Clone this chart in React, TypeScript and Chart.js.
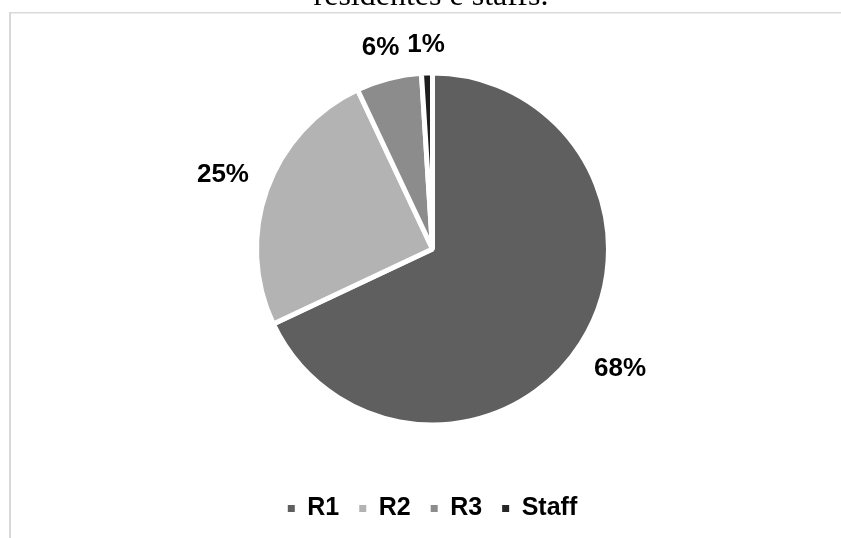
import React, { useEffect, useRef } from "react";
import { Chart, registerables } from "chart.js";

Chart.register(...registerables);

const titleText = "residentes e staffs.";
const categories = ["R1", "R2", "R3", "Staff"];
const values = [68, 25, 6, 1];
const sliceColors = ["#5f5f5f", "#b3b3b3", "#8c8c8c", "#1e1e1e"];
const legendColors = ["#5f5f5f", "#b3b3b3", "#8c8c8c", "#262626"];

const W = 841;
const H = 538;

const framePlugin = {
  id: "frame",
  beforeDraw(chart: any) {
    const ctx = chart.ctx;
    ctx.save();
    ctx.fillStyle = "#ffffff";
    ctx.fillRect(0, 0, W, H);
    ctx.fillStyle = "#d9d9d9";
    ctx.fillRect(9, 12, 2, H);
    ctx.fillRect(9, 12, W, 1.5);
    ctx.fillStyle = "#000000";
    ctx.font = '32px "Liberation Serif"';
    ctx.textAlign = "center";
    ctx.textBaseline = "alphabetic";
    ctx.fillText(titleText, 431, 5);
    ctx.restore();
  },
};

const labelPlugin = {
  id: "outLabels",
  afterDatasetsDraw(chart: any) {
    const ctx = chart.ctx;
    const meta = chart.getDatasetMeta(0);
    const data = chart.data.datasets[0].data as number[];
    const total = data.reduce((a, b) => a + b, 0);
    ctx.save();
    ctx.font = 'bold 26px "Liberation Sans"';
    ctx.fillStyle = "#000000";
    ctx.textAlign = "center";
    ctx.textBaseline = "middle";
    meta.data.forEach((arc: any, i: number) => {
      const p = arc.getProps(["x", "y", "startAngle", "endAngle", "outerRadius"], true);
      const mid = (p.startAngle + p.endAngle) / 2;
      const text = Math.round((data[i] / total) * 100) + "%";
      const tw = ctx.measureText(text).width;
      const th = 19;
      const c = Math.cos(mid);
      const s = Math.sin(mid);
      const half = Math.abs(c) * tw / 2 + Math.abs(s) * th / 2;
      const d = p.outerRadius + 19 + half;
      ctx.fillText(text, p.x + c * d, p.y + s * d + 1);
    });
    ctx.restore();
  },
};

export default function App() {
  const ref = useRef<HTMLCanvasElement | null>(null);
  useEffect(() => {
    if (!ref.current) return;
    const chart = new Chart(ref.current, {
      type: "pie",
      data: {
        labels: categories,
        datasets: [
          {
            data: values,
            backgroundColor: sliceColors,
            borderColor: "#ffffff",
            borderWidth: 5,
          },
        ],
      },
      options: {
        responsive: false,
        animation: false,
        devicePixelRatio: 1,
        layout: { padding: { left: 254, right: 230, top: 22, bottom: 7 } },
        plugins: {
          title: { display: false },
          tooltip: { enabled: false },
          legend: {
            display: true,
            position: "bottom",
            labels: {
              boxWidth: 7,
              boxHeight: 7,
              padding: 20,
              color: "#000000",
              font: { family: '"Liberation Sans"', size: 25, weight: "bold" },
              generateLabels: () =>
                categories.map((c, i) => ({
                  text: c,
                  fillStyle: legendColors[i],
                  strokeStyle: legendColors[i],
                  lineWidth: 0,
                  hidden: false,
                  index: i,
                })),
            },
          },
        },
      },
      plugins: [framePlugin, labelPlugin],
    } as any);
    return () => chart.destroy();
  }, []);
  return (
    <div style={{ position: "fixed", left: 0, top: 0, width: W, height: H, background: "#fff" }}>
      <canvas ref={ref} width={W} height={H} style={{ display: "block", width: W, height: H }} />
    </div>
  );
}
